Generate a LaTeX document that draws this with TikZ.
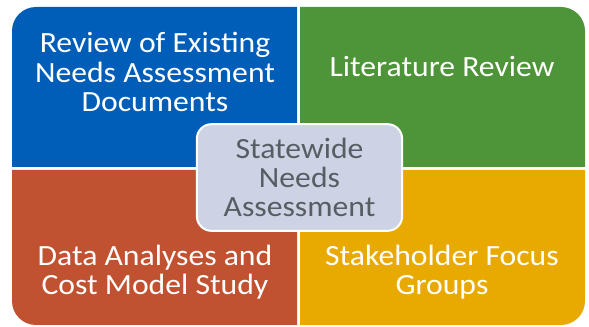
\documentclass[tikz,border=0pt]{standalone}
\usepackage{fontspec}
\setmainfont[FakeStretch=1.08]{Carlito}
\usepackage{xcolor}
\definecolor{naBlue}{RGB}{0,94,184}
\definecolor{naGreen}{RGB}{78,148,57}
\definecolor{naRed}{RGB}{192,82,50}
\definecolor{naGold}{RGB}{232,169,0}
\definecolor{naLavender}{RGB}{205,211,229}
\definecolor{naText}{RGB}{88,93,98}
\usetikzlibrary{positioning}

\tikzset{
  quadtext/.style={text=white, align=center, font=\fontsize{22}{22}\selectfont},
  hub/.style={rounded corners=11pt, fill=naLavender, draw=white, line width=1.5pt,
    minimum width=154pt, minimum height=80pt, text=naText, align=center,
    font=\fontsize{22}{22}\selectfont}
}

\begin{document}
\begin{tikzpicture}[x=0.75pt, y=-0.75pt]
  \useasboundingbox (0,0) rectangle (589,327);

  % four quadrants, each rounded only on its outer corner
  \fill[naBlue] (12,100) [rounded corners=18pt] -- (12,7) -- (150,7) [sharp corners] -- (297,7) -- (297,167) -- (12,167) -- cycle;
  \fill[naGreen] (440,7) [rounded corners=18pt] -- (585,7) -- (585,100) [sharp corners] -- (585,167) -- (300,167) -- (300,7) -- cycle;
  \fill[naRed] (12,250) [rounded corners=18pt] -- (12,325) -- (150,325) [sharp corners] -- (297,325) -- (297,170) -- (12,170) -- cycle;
  \fill[naGold] (440,325) [rounded corners=18pt] -- (585,325) -- (585,250) [sharp corners] -- (585,170) -- (300,170) -- (300,325) -- cycle;

  % labels
  \node[quadtext] (review) at (155,72) {Review of Existing\\Needs Assessment\\Documents};
  \node[quadtext] (lit) at (442,67) {Literature Review};
  \node[quadtext] (data) at (155,272) {Data Analyses and\\Cost Model Study};
  \node[quadtext] (focus) at (442,272) {Stakeholder Focus\\Groups};

  % centre box
  \node[hub] (needs) at (299.5,177.5) {Statewide\\Needs\\Assessment};
\end{tikzpicture}
\end{document}
